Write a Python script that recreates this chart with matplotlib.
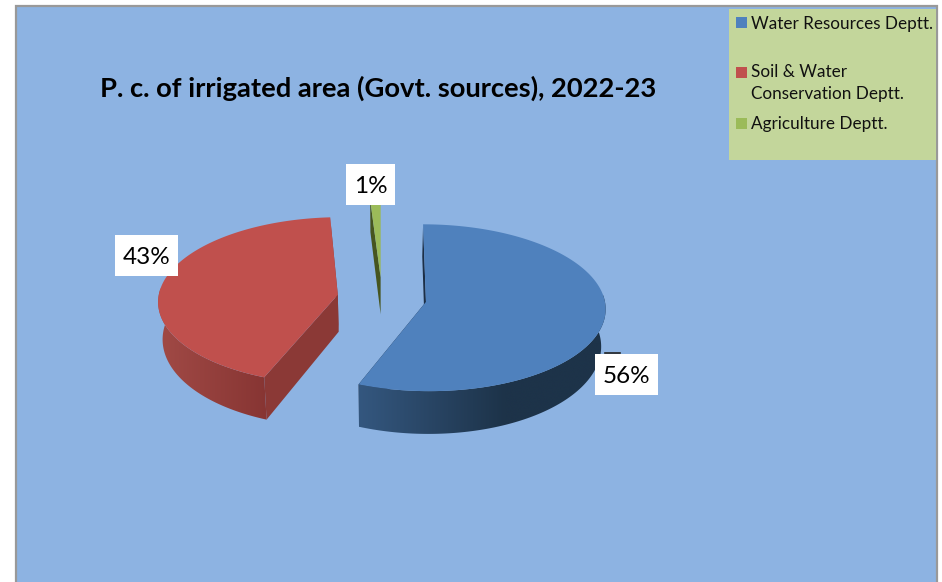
import numpy as np
import matplotlib
matplotlib.use("Agg")
import matplotlib.pyplot as plt
from matplotlib.patches import Rectangle, Polygon
from matplotlib.colors import to_rgb

# ---- data ----
categories = ["Water Resources Deptt.", "Soil & Water\nConservation Deptt.", "Agriculture Deptt."]
shares = [56, 43, 1]
share_labels = ["56%", "43%", "1%"]
title = "P. c. of irrigated area (Govt. sources), 2022-23"

top_colors = ["#4f81bd", "#c0504d", "#9bbb59"]
cut_colors = ["#1c2f47", "#8b3936", "#46551f"]
side_left = ["#34577f", "#a14a46", "#7f9a45"]
side_right = ["#1d3349", "#873533", "#46551f"]

# ---- layout (pixels, origin top-left) ----
W, H = 942, 582
CX, CY = 382, 298
RX, RY = 179, 83
EXPLODE = 0.25
DEPTH = 37
K = 0.07
SHRINK = 0.98
FONT = "Lato"
LABEL_BOXES = [(595, 354, 658, 395), (115, 235, 178, 276), (346, 164, 395, 205)]

fig = plt.figure(figsize=(W / 100, H / 100), dpi=100, facecolor="white")
ax = fig.add_axes([0, 0, 1, 1])

ax.add_patch(Rectangle((16, 6), 921, H, facecolor="#8db3e2", edgecolor="#999999", lw=1.6, zorder=0))
ax.add_patch(Rectangle((729, 9), 207, 151, facecolor="#c3d69b", edgecolor="none", zorder=1))


def project(theta_deg, apex):
    t = np.radians(theta_deg)
    s, c = np.sin(t), np.cos(t)
    p = 1 / (1 + K * c)
    x = CX + (apex[0] + RX * s - CX) * p
    y = apex[1] - RY * c * p
    return x, y, DEPTH * p ** 2


def lower(x, y, d):
    return CX + (x - CX) * SHRINK, y + d


fracs = np.array(shares, dtype=float) / sum(shares) * 360
starts = np.concatenate([[0], np.cumsum(fracs)[:-1]])
ends = starts + fracs

# far slices first, blue last
for i in [2, 1, 0]:
    mid = np.radians((starts[i] + ends[i]) / 2)
    apex = (CX + RX * EXPLODE * np.sin(mid), CY - RY * EXPLODE * np.cos(mid))
    th = np.linspace(starts[i], ends[i], 181)
    z = 3 + (2 - i)
    # flat cut faces
    ax_, ay_ = lower(apex[0], apex[1], DEPTH)
    for ang in (starts[i], ends[i]):
        xr, yr, dr = project(ang, apex)
        xl, yl = lower(xr, yr, dr)
        ax.add_patch(Polygon([apex, (xr, yr), (xl, yl), (ax_, ay_)],
                             closed=True, facecolor=cut_colors[i], edgecolor="none", zorder=z))
    # outer wall with a horizontal colour ramp
    vis = th[(th >= 85) & (th <= 275)]
    if len(vis) > 1:
        xt, yt, dt = project(vis, apex)
        xb, yb = lower(xt, yt, dt)
        wall = Polygon(np.column_stack([np.r_[xt, xb[::-1]], np.r_[yt, yb[::-1]]]),
                       closed=True, facecolor="none", edgecolor="none", zorder=z + 0.1)
        ax.add_patch(wall)
        x0, x1 = min(xt.min(), xb.min()), max(xt.max(), xb.max())
        ramp = np.clip(np.linspace(0, 1.7 if i == 0 else 1.0, 256), 0, 1)
        c0, c1 = np.array(to_rgb(side_left[i])), np.array(to_rgb(side_right[i]))
        grad = (c0[None, :] + (c1 - c0)[None, :] * ramp[:, None])[None, :, :]
        im = ax.imshow(grad, extent=[x0, x1, max(yt.max(), yb.max()), min(yt.min(), yb.min())],
                       aspect="auto", zorder=z + 0.1, interpolation="bilinear")
        im.set_clip_path(wall)
    # top face
    xs, ys, _ = project(th, apex)
    ax.add_patch(Polygon(np.column_stack([np.r_[apex[0], xs], np.r_[apex[1], ys]]),
                         closed=True, facecolor=top_colors[i], edgecolor="none", zorder=z + 0.2))

# leader stub next to the 56% label
ax.plot([605, 620], [353, 353], color="#222222", lw=1.2, zorder=8)

for (x0, y0, x1, y1), lab in zip(LABEL_BOXES, share_labels):
    ax.add_patch(Rectangle((x0, y0), x1 - x0, y1 - y0, facecolor="white", edgecolor="none", zorder=9))
    ax.text((x0 + x1) / 2, (y0 + y1) / 2, lab, ha="center", va="center_baseline",
            fontsize=17.5, family=FONT, color="black", zorder=10)

ax.text(378.5, 86, title, ha="center", va="center_baseline", fontsize=19.7,
        fontweight="bold", family=FONT, color="black", zorder=10)

legend_rows = [22, 72, 123]
for y, lab, col in zip(legend_rows, categories, top_colors):
    ax.add_patch(Rectangle((736, y - 5.5), 11, 11, facecolor=col, edgecolor="none", zorder=10))
    multi = "\n" in lab
    ax.text(751, y - 8 if multi else y, lab, ha="left", va="top" if multi else "center_baseline",
            fontsize=12.3, family=FONT, color="#111111", linespacing=1.45, zorder=10)

ax.set_xlim(0, W)
ax.set_ylim(H, 0)
ax.axis("off")

fig.savefig("out.png", dpi=100, facecolor="white")
